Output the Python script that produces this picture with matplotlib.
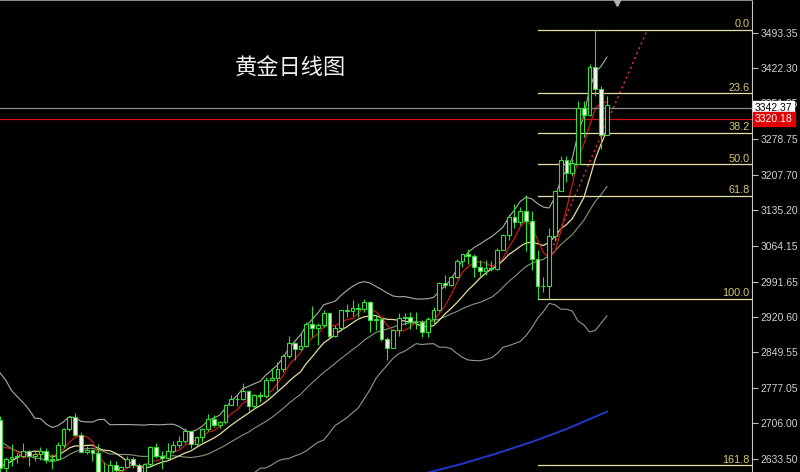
import matplotlib
matplotlib.use("Agg")
import matplotlib.pyplot as plt
from matplotlib.patches import Rectangle
import numpy as np
import pandas as pd

plt.rcParams['font.family'] = ['Noto Sans CJK SC', 'DejaVu Sans']

# closes of the sessions just left of the window (only feed the averages)
pre_close = [2742, 2774, 2788, 2744, 2736, 2736, 2743, 2659, 2707, 2685,
             2619, 2598, 2573, 2565, 2563, 2612, 2631, 2651, 2670, 2713]

# daily candles, 25 Nov 2024 .. 24 Apr 2025
opens = [2712, 2616, 2633, 2637, 2640, 2650, 2639, 2643, 2650, 2631,
         2633, 2661, 2694, 2718, 2681, 2648, 2652, 2646, 2586, 2594,
         2622, 2612, 2617, 2634, 2621, 2606, 2624, 2658, 2640, 2636,
         2649, 2662, 2670, 2690, 2663, 2677, 2695, 2715, 2703, 2708,
         2743, 2755, 2754, 2770, 2740, 2763, 2760, 2794, 2798, 2815,
         2842, 2867, 2856, 2861, 2907, 2898, 2905, 2928, 2882, 2898,
         2934, 2933, 2939, 2936, 2951, 2915, 2916, 2876, 2857, 2894,
         2918, 2920, 2910, 2911, 2890, 2916, 2934, 2988, 2984, 3000,
         3034, 3047, 3044, 3022, 3012, 3020, 3018, 3056, 3085, 3123,
         3112, 3134, 3114, 3037, 2983, 2982, 3083, 3175, 3237, 3210,
         3229, 3343, 3327, 3424, 3381, 3288]
highs = [2721, 2638, 2664, 2645, 2666, 2652, 2650, 2657, 2655, 2644,
         2667, 2697, 2721, 2726, 2688, 2659, 2653, 2664, 2628, 2632,
         2630, 2620, 2639, 2638, 2625, 2626, 2660, 2665, 2649, 2665,
         2670, 2679, 2697, 2690, 2679, 2697, 2725, 2723, 2710, 2745,
         2763, 2763, 2786, 2772, 2765, 2769, 2800, 2817, 2830, 2845,
         2882, 2870, 2887, 2911, 2942, 2909, 2934, 2929, 2905, 2935,
         2947, 2955, 2948, 2956, 2953, 2925, 2919, 2880, 2895, 2928,
         2928, 2930, 2930, 2915, 2921, 2940, 2990, 3005, 3002, 3038,
         3048, 3057, 3047, 3035, 3036, 3033, 3060, 3087, 3128, 3149,
         3142, 3167, 3135, 3055, 3000, 3099, 3175, 3245, 3245, 3240,
         3357, 3357, 3430, 3500, 3386, 3367]
lows = [2605, 2605, 2620, 2625, 2637, 2620, 2630, 2632, 2625, 2613,
        2631, 2656, 2691, 2679, 2645, 2643, 2630, 2583, 2584, 2593,
        2603, 2609, 2615, 2615, 2597, 2600, 2620, 2635, 2614, 2633,
        2645, 2656, 2665, 2656, 2660, 2668, 2690, 2699, 2696, 2705,
        2743, 2741, 2752, 2730, 2736, 2749, 2756, 2790, 2772, 2809,
        2838, 2834, 2853, 2860, 2880, 2864, 2900, 2878, 2880, 2892,
        2920, 2922, 2921, 2930, 2890, 2893, 2872, 2833, 2857, 2881,
        2905, 2895, 2896, 2880, 2880, 2906, 2932, 2978, 2982, 2999,
        3022, 3028, 3000, 3002, 3004, 3012, 3015, 3055, 3075, 3100,
        3105, 3054, 3015, 2956, 2970, 2957, 3073, 3174, 3193, 3205,
        3229, 3284, 3326, 3367, 3260, 3287]
closes = [2616, 2633, 2637, 2640, 2650, 2639, 2643, 2650, 2631, 2633,
          2661, 2694, 2718, 2681, 2648, 2652, 2646, 2586, 2594, 2622,
          2612, 2617, 2634, 2621, 2606, 2624, 2658, 2640, 2636, 2649,
          2662, 2670, 2690, 2663, 2677, 2695, 2715, 2703, 2708, 2743,
          2755, 2754, 2770, 2740, 2763, 2760, 2794, 2798, 2815, 2842,
          2867, 2856, 2861, 2907, 2898, 2905, 2928, 2882, 2898, 2934,
          2933, 2939, 2936, 2951, 2915, 2916, 2876, 2857, 2894, 2918,
          2920, 2910, 2911, 2890, 2916, 2934, 2988, 2984, 3000, 3034,
          3047, 3044, 3022, 3012, 3020, 3018, 3056, 3085, 3123, 3112,
          3134, 3114, 3037, 2983, 2982, 3083, 3175, 3237, 3210, 3230,
          3343, 3327, 3424, 3381, 3288, 3348]

# long moving average (blue)
ma_long_idx = [74, 80, 86, 92, 98, 105]
ma_long_val = [2606, 2624, 2645, 2668, 2694, 2729]

# dotted trend line
trend_idx = [95, 112]
trend_val = [3045, 3500]

# fibonacci from the 7 Apr low to the 22 Apr high
fib_start = 93
fib_low = 2956.6
fib_high = 3499.8
fib_levels = [0.0, 23.6, 38.2, 50.0, 61.8, 100.0, 161.8]

ref_price = 3342.37
bid_price = 3320.18

yticks = [2633.50, 2706.00, 2777.05, 2849.55, 2920.60, 2991.65, 3064.15,
          3135.20, 3207.70, 3278.75, 3351.35, 3422.30, 3493.35]
title = "黄金日线图"

GREEN = '#33dd33'

fig = plt.figure(figsize=(8, 4.72), dpi=100, facecolor='black')
ax = fig.add_axes([0, 0, 752 / 800, 1])
ax.set_facecolor('black')

n = len(closes)
idx = np.arange(n)

allc = pd.Series(pre_close + closes, dtype=float)
k = len(pre_close)
ma5 = allc.rolling(5).mean().values[k:]
ma10 = allc.rolling(10).mean().values[k:]
mid = allc.rolling(20).mean()
sd = allc.rolling(20).std(ddof=0)
bb_up = (mid + 2 * sd).values[k:]
bb_lo = (mid - 2 * sd).values[k:]
bb_mid = mid.values[k:]

ax.plot(idx, bb_up, color='#a8b0a8', lw=0.8, zorder=2)
ax.plot(idx, bb_lo, color='#8f988f', lw=0.8, zorder=2)
ax.plot(idx, bb_mid, color='#7f9a78', lw=0.8, zorder=2)
ax.plot(idx, ma10, color='#e8dca0', lw=0.9, zorder=2)
ax.plot(idx, ma5, color='#c81818', lw=0.9, zorder=2)
ax.plot(ma_long_idx, ma_long_val, color='#2038c8', lw=1.4, zorder=2)
ax.plot(trend_idx, trend_val, color='#d03030', lw=1.1, ls=(0, (1.5, 2)), zorder=2)

# candles
w = 0.66
for i in range(n):
    o, h, l, c = opens[i], highs[i], lows[i], closes[i]
    ax.vlines(i, l, h, color=GREEN, lw=0.8, zorder=3)
    face = 'black' if c >= o else '#f4f4ec'
    ax.add_patch(Rectangle((i - w / 2, min(o, c)), w, max(abs(c - o), 0.5),
                           facecolor=face, edgecolor=GREEN, lw=0.8, zorder=4))

# fibonacci levels
ytr = ax.get_yaxis_transform()
for lv in fib_levels:
    p = fib_high - (fib_high - fib_low) * lv / 100
    ax.plot([fib_start, 140], [p, p], color='#e4dea8', lw=0.9, zorder=2)
    ax.text(0.997, p + 1.5, f"{lv:.1f}", transform=ytr, ha='right', va='bottom',
            color='#d8ca6c', fontsize=7.8, family='Liberation Sans', zorder=5)

ax.axhline(ref_price, color='#8a8a8a', lw=0.9, zorder=2)
ax.axhline(bid_price, color='#d81010', lw=0.9, zorder=2)

ax.text(0.386, 0.856, title, transform=ax.transAxes, ha='center', va='center',
        color='#f0f0f0', fontsize=16)

ax.set_xlim(0, 130.1)
ax.set_ylim(2607.3, 3560.0)
ax.set_xticks([])
ax.yaxis.tick_right()
ax.set_yticks(yticks)
ax.set_yticklabels([f"{v:.2f}" for v in yticks])
ax.tick_params(axis='y', color='#c0c0c0', labelcolor='#d0d0d0', labelsize=7.5,
               length=4, width=0.8, pad=2)
for lbl in ax.get_yticklabels():
    lbl.set_fontfamily('Liberation Sans')

for s in ['left', 'bottom']:
    ax.spines[s].set_visible(False)
ax.spines['right'].set_color('#c8c8c8')
ax.spines['top'].set_color('#8a8a8a')
ax.spines['top'].set_linewidth(1.5)

# price boxes on the scale (they cover the 3351.35 label, as on the terminal)
ax.text(1.0 + 3 / 752, ref_price, f"{ref_price:.2f}", transform=ytr, ha='left', va='center',
        fontsize=7.5, family='Liberation Sans', color='black', clip_on=False, zorder=10,
        bbox=dict(boxstyle='square,pad=0.18', fc='white', ec='white'))
ax.text(1.0 + 3 / 752, bid_price, f"{bid_price:.2f}", transform=ytr, ha='left', va='center',
        fontsize=7.5, family='Liberation Sans', color='white', clip_on=False, zorder=10,
        bbox=dict(boxstyle='square,pad=0.18', fc='#e00000', ec='#e00000'))

# chart shift marker
ax.plot([106.8], [3556], marker='v', color='#b0b0b0', markersize=6, clip_on=False, zorder=10)

fig.savefig("out.png", dpi=100, facecolor='black')
